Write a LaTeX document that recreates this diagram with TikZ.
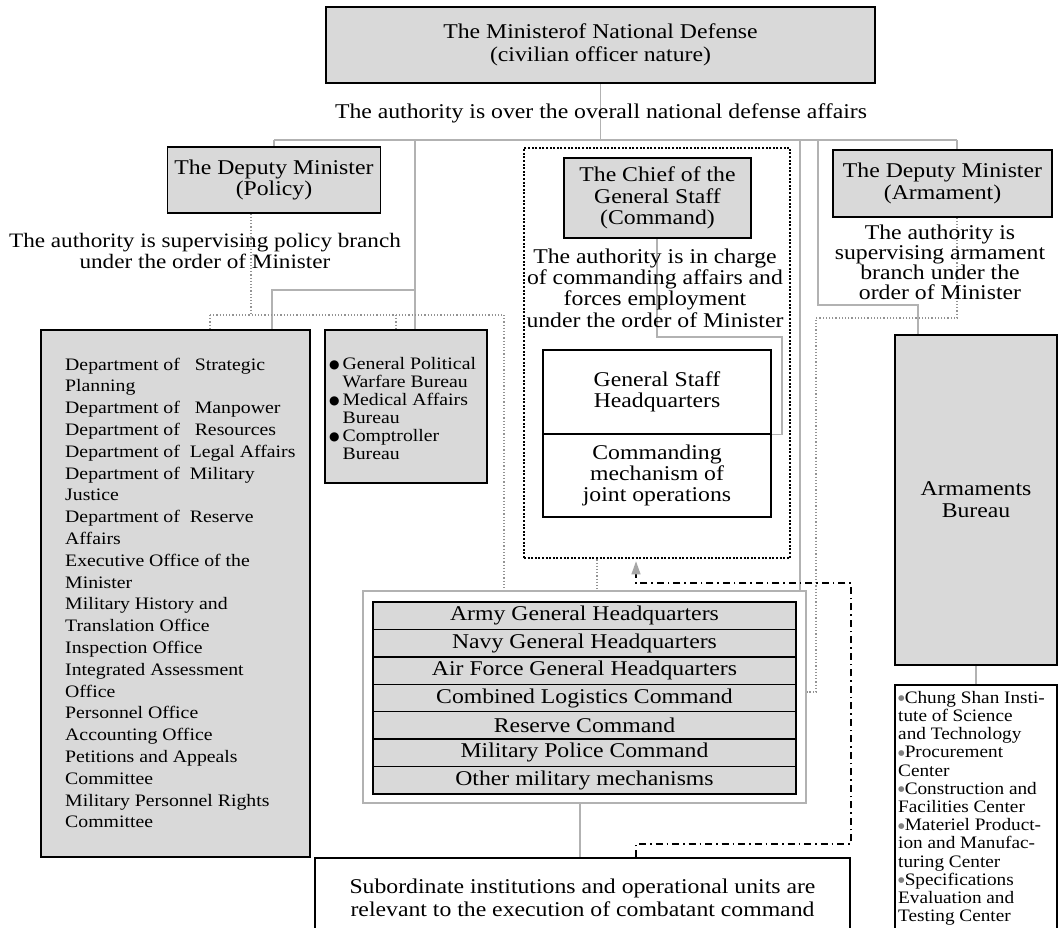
\documentclass[tikz,border=0pt]{standalone}
\usepackage{fontspec}
\setmainfont{Liberation Serif}[FakeStretch=1.13]
\newfontfamily\listfont{Liberation Serif}[FakeStretch=1.1]
\newfontfamily\dejavu{DejaVu Sans}
\usetikzlibrary{arrows.meta}
\pgfdeclarelayer{background}
\pgfsetlayers{background,main}
\definecolor{stip}{gray}{0.85}
\newcommand\fsz[2]{\fontsize{#1}{#2}\selectfont}
\newcommand\bul{{\dejavu\fsz{12}{12}\raisebox{0.5pt}{●}}}
\newcommand\gbul{{\dejavu\fsz{7.5}{7.5}\color{gray}\raisebox{2.5pt}{●}}}
\tikzset{
  box/.style={draw=black, line width=1.3pt, fill=stip, inner sep=0pt, align=center},
  wbox/.style={draw=black, line width=1.3pt, fill=white, inner sep=0pt, align=center},
  txt/.style={inner sep=0pt, align=center},
  rowbox/.style={draw=black, line width=1.4pt, fill=stip, inner sep=0pt, minimum width=423, minimum height=27.43, font=\fsz{21}{22}},
  conn/.style={draw=gray!60, line width=1.4pt},
  dconn/.style={draw=gray!85, line width=1.1pt, dash pattern=on 1.2pt off 2pt},
  dashdot/.style={draw=black, line width=1.3pt, dash pattern=on 7pt off 4pt on 1.5pt off 4pt},
}
\begin{document}
\begin{tikzpicture}[x=1pt,y=-1pt]
\useasboundingbox (0,0) rectangle (1059,927);
\begin{pgfonlayer}{background}
\fill[white] (0,0) rectangle (1059,927);
\end{pgfonlayer}
\clip (0,0) rectangle (1059,927);

% top
\node[box, minimum width=549, minimum height=76, font=\fsz{21}{23}] (min) at (600.5,45) {The Ministerof National Defense\\(civilian officer nature)};
\node[txt, font=\fsz{21}{23}] (minauth) at (601,113) {The authority is over the overall national defense affairs};

% policy
\node[box, minimum width=213, minimum height=66, font=\fsz{21}{21.5}] (pol) at (274,180) {The Deputy Minister\\(Policy)};
\node[txt, font=\fsz{20.5}{21.5}] (polauth) at (205,251) {The authority is supervising policy branch\\under the order of Minister};

% chief
\node[draw=black, line width=2.6pt, dash pattern=on 2pt off 1.6pt, minimum width=266, minimum height=410, inner sep=0pt] (chiefframe) at (657,353) {};
\node[box, minimum width=187, minimum height=80, font=\fsz{21}{21.5}] (chief) at (657.5,198) {The Chief of the\\General Staff\\(Command)};
\node[txt, font=\fsz{21}{21.3}] (chiefauth) at (655,288) {The authority is in charge\\of commanding affairs and\\forces employment\\under the order of Minister};
\node[wbox, minimum width=228, minimum height=84, font=\fsz{21}{21.5}] (gsh) at (657,392) {General Staff\\Headquarters};
\node[wbox, minimum width=228, minimum height=83, font=\fsz{21}{20.7}] (cmj) at (657,475.5) {Commanding\\mechanism of\\joint operations};

% armament
\node[box, minimum width=219, minimum height=67, font=\fsz{21}{21.5}] (arm) at (942.5,183.5) {The Deputy Minister\\(Armament)};
\node[txt, font=\fsz{21}{20}] (armauth) at (940,262) {The authority is\\supervising armament\\branch under the\\order of Minister};
\node[box, minimum width=162, minimum height=330, font=\fsz{21}{22}] (armbureau) at (976,500) {Armaments\\Bureau};
\node[wbox, minimum width=162, minimum height=260] (armlist) at (976,815) {};
\node[txt, anchor=north west, align=left, font=\listfont\fsz{17.5}{18.2}] (armlisttext) at (898,691) {\gbul Chung Shan Insti-\\tute of Science\\and Technology\\\gbul Procurement\\Center\\\gbul Construction and\\Facilities Center\\\gbul Materiel Product-\\ion and Manufac-\\turing Center\\\gbul Specifications\\Evaluation and\\Testing Center};

% left lists
\node[box, minimum width=269, minimum height=527] (leftlist) at (175.5,593.5) {};
\node[txt, anchor=north west, align=left, font=\fsz{17.5}{21.8}] (lltext) at (65,357.5) {Department of\ \ \ Strategic\\Planning\\Department of\ \ \ Manpower\\Department of\ \ \ Resources\\Department of\ \ Legal Affairs\\Department of\ \ Military\\Justice\\Department of\ \ Reserve\\Affairs\\Executive Office of the\\Minister\\Military History and\\Translation Office\\Inspection Office\\Integrated Assessment\\Office\\Personnel Office\\Accounting Office\\Petitions and Appeals\\Committee\\Military Personnel Rights\\Committee};
\node[box, minimum width=162, minimum height=153] (bullets) at (406,406.5) {};
\node[txt, anchor=north west, align=left, font=\fsz{17.5}{18}] (bultext) at (329,357) {\bul\,General Political\\\phantom{\bul}\,Warfare Bureau\\\bul\,Medical Affairs\\\phantom{\bul}\,Bureau\\\bul\,Comptroller\\\phantom{\bul}\,Bureau};

% services
\node[draw=gray!60, line width=1.6pt, fill=white, minimum width=443, minimum height=212, inner sep=0pt] (armframe) at (584.5,697) {};
\foreach \t [count=\i] in {Army General Headquarters, Navy General Headquarters, Air Force General Headquarters, Combined Logistics Command, Reserve Command, Military Police Command, Other military mechanisms}
  \node[rowbox] (r\i) at (584.5,{588.29+\i*27.43}) {\t};

% subordinate
\node[wbox, minimum width=535, minimum height=80, font=\fsz{21}{22.5}] (sub) at (582.5,898) {Subordinate institutions and operational units are\\relevant to the execution of combatant command};

% junction coordinates
\coordinate (jm) at (600.5,140);
\coordinate (bL) at (274,140);
\coordinate (bR) at (957,140);
\coordinate (b2) at (415,140);
\coordinate (b2m) at (415,290);
\coordinate (b2l) at (272,290);
\coordinate (b4) at (800,140);
\coordinate (b5) at (818,140);
\coordinate (b5m) at (818,305);
\coordinate (b5r) at (918,305);
\coordinate (c1) at (657,337);
\coordinate (c2) at (782,337);
\coordinate (s1) at (580,830);
\coordinate (d0) at (251,315);
\coordinate (dL) at (210,315);
\coordinate (dM) at (396,315);
\coordinate (dR) at (504,315);
\coordinate (e0) at (597,570);
\coordinate (f1) at (957,318);
\coordinate (f2) at (816,318);
\coordinate (f3) at (816,692);
\coordinate (g1) at (636,844);
\coordinate (g2) at (851,844);
\coordinate (g3) at (851,583);
\coordinate (g4) at (636,583);

\begin{pgfonlayer}{background}
\draw[conn] (min.south) -- (jm);
\draw[conn] (bL) -- (bR);
\draw[conn] (bL) -- (pol.north);
\draw[conn] (b2) -- (b2 |- bullets.north);
\draw[conn] (b2m) -- (b2l) -- (b2l |- leftlist.north);
\draw[conn] (b4) -- (b4 |- armframe.north);
\draw[conn] (b5) -- (b5m) -- (b5r) -- (b5r |- armbureau.north);
\draw[conn] (bR) -- (bR |- arm.north);
\draw[conn] (c1 |- chief.south) -- (c1) -- (c2) -- (c2 |- gsh.south) -- (gsh.south east);
\draw[conn] (s1 |- armframe.south) -- (s1 |- sub.north);
\draw[conn] (armbureau.south) -- (armlist.north);
\draw[dconn] (d0 |- pol.south) -- (d0);
\draw[dconn] (dL) -- (dR);
\draw[dconn] (dL) -- (dL |- leftlist.north);
\draw[dconn] (dM) -- (dM |- bullets.north);
\draw[dconn] (dR) -- (dR |- armframe.north);
\draw[dconn] (e0 |- chiefframe.south) -- (e0 |- armframe.north);
\draw[dconn] (f1 |- arm.south) -- (f1) -- (f2) -- (f3) -- (f3 -| armframe.east);
\end{pgfonlayer}
\draw[dashdot, -{Triangle[length=13pt,width=9pt,fill=gray!70,color=gray!70]}, shorten >=2pt] (g1 |- sub.north) -- (g1) -- (g2) -- (g3) -- (g4) -- (g4 |- chiefframe.south);
\end{tikzpicture}
\end{document}
